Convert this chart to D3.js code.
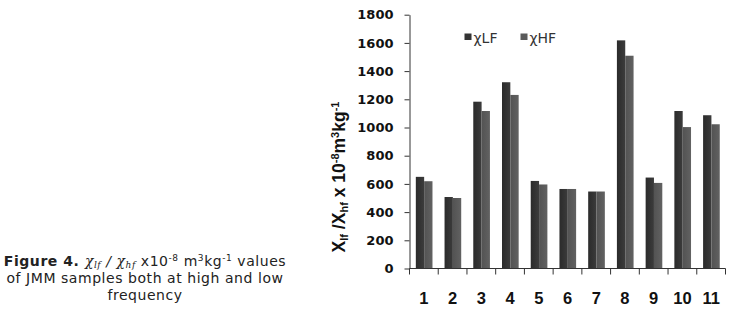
<!DOCTYPE html>
<html><head><meta charset="utf-8">
<script src="https://cdn.jsdelivr.net/npm/d3@7"></script>
<style>body{margin:0;background:#fff;} svg{display:block;}</style>
</head><body>
<svg id="c" width="737" height="311"></svg>
<script>
const categories = ["1","2","3","4","5","6","7","8","9","10","11"];
const seriesNames = ["χLF","χHF"];
const chiLF = [650, 507, 1183, 1321, 621, 564, 546, 1618, 645, 1117, 1087];
const chiHF = [619, 500, 1117, 1231, 596, 564, 546, 1509, 607, 1003, 1023];
const yTicks = [0,200,400,600,800,1000,1200,1400,1600,1800];

const svg = d3.select("#c");
const x = d3.scaleBand().domain(categories).range([409.5, 725.5]).padding(0);
const xs = d3.scaleBand().domain(seriesNames).range([x.bandwidth()*0.22, x.bandwidth()*0.80]);
const y = d3.scaleLinear().domain([0,1800]).range([268.5, 14.7]);

const defs = svg.append("defs");
const g1 = defs.append("linearGradient").attr("id","gLF");
g1.append("stop").attr("offset","0").attr("stop-color","#2b2b2b");
g1.append("stop").attr("offset","0.5").attr("stop-color","#333");
g1.append("stop").attr("offset","1").attr("stop-color","#3c3c3c");
const g2 = defs.append("linearGradient").attr("id","gHF");
g2.append("stop").attr("offset","0").attr("stop-color","#535353");
g2.append("stop").attr("offset","0.5").attr("stop-color","#5a5a5a");
g2.append("stop").attr("offset","1").attr("stop-color","#626262");
const fills = {"χLF":"url(#gLF)","χHF":"url(#gHF)"};
const solid = {"χLF":"#333333","χHF":"#5a5a5a"};

const data = categories.map((c,i)=>({c, vals:[{s:"χLF",v:chiLF[i]},{s:"χHF",v:chiHF[i]}]}));
const grp = svg.append("g").selectAll("g").data(data).join("g")
  .attr("transform", d=>`translate(${x(d.c)},0)`);
grp.selectAll("rect").data(d=>d.vals).join("rect")
  .attr("x", d=>xs(d.s)).attr("width", xs.bandwidth())
  .attr("y", d=>y(d.v)).attr("height", d=>y(0)-y(d.v))
  .attr("fill", d=>fills[d.s]);

// Y axis
const yAxis = svg.append("g").attr("transform","translate(409.5,0)")
  .call(d3.axisLeft(y).tickValues(yTicks).tickFormat(d3.format("d")).tickSize(5).tickPadding(11).tickSizeOuter(0));
yAxis.selectAll("text").attr("font-family","DejaVu Sans").attr("font-weight","bold")
  .attr("font-size","13px").attr("fill","#111");
yAxis.selectAll("line,path").attr("stroke","#333");

// X axis with ticks at band boundaries
const xAxisG = svg.append("g").attr("transform","translate(0,268.5)");
xAxisG.append("line").attr("x1",409.5).attr("x2",725.5).attr("stroke","#333");
const bounds = categories.map(c=>x(c)).concat([x(categories[categories.length-1])+x.bandwidth()]);
xAxisG.selectAll("line.t").data(bounds).join("line").attr("class","t")
  .attr("x1",d=>d).attr("x2",d=>d).attr("y1",0).attr("y2",6).attr("stroke","#333");
xAxisG.selectAll("text").data(categories).join("text")
  .attr("x", d=>x(d)+x.bandwidth()/2).attr("y", 35)
  .attr("text-anchor","middle").attr("font-family","Liberation Sans").attr("font-weight","bold")
  .attr("font-size","16.5px").attr("fill","#111").text(d=>d);

// Legend
const leg = svg.append("g");
const legX = [464.5, 520.5];
seriesNames.forEach((s,i)=>{
  leg.append("rect").attr("x",legX[i]).attr("y",33.5).attr("width",7).attr("height",6.5).attr("fill",solid[s]);
  leg.append("text").attr("x",legX[i]+9).attr("y",42.5).attr("font-family","DejaVu Sans")
    .attr("font-size","14px").attr("fill","#333").text(s);
});

// Y axis title
const yt = svg.append("text").attr("transform","translate(345,177) rotate(-90)")
  .attr("text-anchor","middle").attr("font-family","Liberation Sans").attr("font-weight","bold")
  .attr("font-size","17.5px").attr("fill","#111");
yt.append("tspan").text("Χ");
yt.append("tspan").attr("font-size","11px").attr("dy","3").text("lf");
yt.append("tspan").attr("dy","-3").text(" /Χ");
yt.append("tspan").attr("font-size","11px").attr("dy","3").text("hf");
yt.append("tspan").attr("dy","-3").text(" x 10");
yt.append("tspan").attr("font-size","11px").attr("dy","-6").text("-8");
yt.append("tspan").attr("dy","6").text("m");
yt.append("tspan").attr("font-size","11px").attr("dy","-6").text("3");
yt.append("tspan").attr("dy","6").text("kg");
yt.append("tspan").attr("font-size","11px").attr("dy","-6").text("-1");

// Caption
const cap = svg.append("g").attr("font-family","DejaVu Sans").attr("font-size","14px")
  .attr("letter-spacing","0.55px").attr("fill","#222");
const l1 = cap.append("text").attr("x",145).attr("y",266).attr("text-anchor","middle");
l1.append("tspan").attr("font-weight","bold").text("Figure 4. ");
l1.append("tspan").attr("font-family","DejaVu Serif").attr("font-style","italic").text("χ");
l1.append("tspan").attr("font-family","DejaVu Serif").attr("font-style","italic").attr("font-size","9px").attr("dy","2").text("lf");
l1.append("tspan").attr("dy","-2").attr("font-style","italic").text(" / ");
l1.append("tspan").attr("font-family","DejaVu Serif").attr("font-style","italic").text("χ");
l1.append("tspan").attr("font-family","DejaVu Serif").attr("font-style","italic").attr("font-size","9px").attr("dy","2").text("hf");
l1.append("tspan").attr("dy","-2").text(" x10");
l1.append("tspan").attr("font-size","9px").attr("dy","-5").text("-8");
l1.append("tspan").attr("dy","5").text(" m");
l1.append("tspan").attr("font-size","9px").attr("dy","-5").text("3");
l1.append("tspan").attr("dy","5").text("kg");
l1.append("tspan").attr("font-size","9px").attr("dy","-5").text("-1");
l1.append("tspan").attr("dy","5").text(" values");
cap.append("text").attr("x",145).attr("y",283).attr("text-anchor","middle").text("of JMM samples both at high and low");
cap.append("text").attr("x",145).attr("y",300).attr("text-anchor","middle").text("frequency");
</script>
</body></html>
